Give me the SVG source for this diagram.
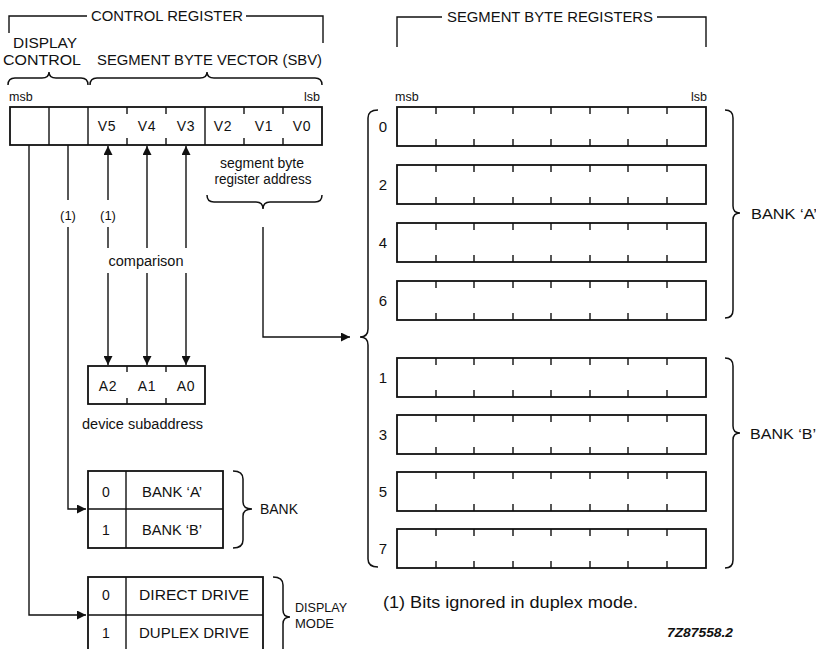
<svg xmlns="http://www.w3.org/2000/svg" width="816" height="649" viewBox="0 0 816 649">
<style>
  text { font-family: "Liberation Sans", Arial, sans-serif; fill: #111; }
  .t15 { font-size: 15px; }
  .t14 { font-size: 14px; }
  .t13 { font-size: 13px; }
  .t12 { font-size: 12.5px; }
  .sp { letter-spacing: 0.8px; }
  .c { text-anchor: middle; }
  .box { fill: none; stroke: #111; stroke-width: 1.8; }
  .ln { fill: none; stroke: #111; stroke-width: 1.4; }
  .tk { fill: none; stroke: #111; stroke-width: 1.4; }
  .br { fill: none; stroke: #111; stroke-width: 1.5; }
</style>
<defs>
  <marker id="ah" viewBox="0 0 10 10" refX="10" refY="5" markerWidth="9" markerHeight="9" markerUnits="userSpaceOnUse" orient="auto">
    <path d="M0,0 L10,5 L0,10 z" fill="#111"/>
  </marker>
</defs>
<rect width="816" height="649" fill="#fff"/>

<!-- Control register header -->
<g id="control-register-header">
  <path class="ln" d="M9 33 V16 H87 M246 16 H323 V43"/>
  <text class="t14" x="91" y="21" textLength="152" lengthAdjust="spacingAndGlyphs">CONTROL REGISTER</text>
  <text class="t14" x="13" y="48" textLength="64" lengthAdjust="spacingAndGlyphs">DISPLAY</text>
  <text class="t14" x="3" y="65" textLength="78" lengthAdjust="spacingAndGlyphs">CONTROL</text>
  <text class="t14" x="97" y="65" textLength="225" lengthAdjust="spacingAndGlyphs">SEGMENT BYTE VECTOR (SBV)</text>
  <path class="br" d="M8 85 Q8 78 15 78 L42 78 Q49 78 49 72 Q49 78 56 78 L81 78 Q88 78 88 85"/>
  <path class="br" d="M90 85 Q90 78 97 78 L200 78 Q207 78 207 72 Q207 78 214 78 L315 78 Q322 78 322 85"/>
  <text class="t12" x="9" y="101">msb</text>
  <text class="t12" x="320" y="101" text-anchor="end">lsb</text>
</g>

<!-- Control register -->
<g id="control-register">
  <rect class="box" x="10" y="107" width="312" height="38"/>
  <path class="ln" d="M49 107 V145 M88 107 V145 M205 107 V145"/>
  <path class="tk" d="M127 107 v7 M166 107 v7 M244 107 v7 M283 107 v7 M127 145 v-7 M166 145 v-7 M244 145 v-7 M283 145 v-7"/>
  <text class="t14 c sp" x="107" y="131">V5</text>
  <text class="t14 c sp" x="147" y="131">V4</text>
  <text class="t14 c sp" x="186" y="131">V3</text>
  <text class="t14 c sp" x="223" y="131">V2</text>
  <text class="t14 c sp" x="264" y="131">V1</text>
  <text class="t14 c sp" x="302" y="131">V0</text>
</g>

<g id="address-label">
  <text class="t14 c" x="262" y="168" textLength="84" lengthAdjust="spacingAndGlyphs">segment byte</text>
  <text class="t14 c" x="263" y="184" textLength="97" lengthAdjust="spacingAndGlyphs">register address</text>
  <path class="br" d="M207 195 Q207 202 214 202 L256 202 Q263 202 263 209 Q263 202 270 202 L315 202 Q322 202 322 195"/>
</g>

<!-- Device subaddress -->
<g id="device-subaddress">
  <rect class="box" x="88" y="366" width="117" height="38"/>
  <path class="tk" d="M127 366 v6 M166 366 v6 M127 404 v-6 M166 404 v-6"/>
  <text class="t14 c sp" x="108" y="391">A2</text>
  <text class="t14 c sp" x="147" y="391">A1</text>
  <text class="t14 c sp" x="186" y="391">A0</text>
  <text class="t14" x="82" y="429" textLength="121" lengthAdjust="spacingAndGlyphs">device subaddress</text>
</g>

<!-- Bank table -->
<g id="bank-table">
  <rect class="box" x="88" y="471" width="135" height="77"/>
  <path class="ln" d="M88 509 H223 M126 471 V548"/>
  <text class="t14 c" x="106" y="497">0</text>
  <text class="t14 c" x="172" y="497" textLength="60" lengthAdjust="spacingAndGlyphs">BANK ‘A’</text>
  <text class="t14 c" x="106" y="535">1</text>
  <text class="t14 c" x="172" y="535" textLength="60" lengthAdjust="spacingAndGlyphs">BANK ‘B’</text>
  <path class="br" d="M233 471 Q243 471 243 479 L243 502 Q243 509 252 509 Q243 509 243 516 L243 540 Q243 548 233 548"/>
  <text class="t14" x="260" y="514" textLength="38" lengthAdjust="spacingAndGlyphs">BANK</text>
</g>

<!-- Display mode table -->
<g id="display-mode-table">
  <rect class="box" x="88" y="577" width="175" height="80"/>
  <path class="ln" d="M88 615 H263 M126 577 V657"/>
  <text class="t14 c" x="106" y="600">0</text>
  <text class="t14 c" x="194" y="600" textLength="110" lengthAdjust="spacingAndGlyphs">DIRECT DRIVE</text>
  <text class="t14 c" x="106" y="638">1</text>
  <text class="t14 c" x="194" y="638" textLength="110" lengthAdjust="spacingAndGlyphs">DUPLEX DRIVE</text>
  <path class="br" d="M273 577 Q283 577 283 585 L283 610 Q283 617 290 617 Q283 617 283 624 L283 660"/>
  <text class="t13" x="295" y="612" textLength="52" lengthAdjust="spacingAndGlyphs">DISPLAY</text>
  <text class="t13" x="295" y="628">MODE</text>
</g>

<!-- Segment byte registers header -->
<g id="segment-byte-registers-header">
  <path class="ln" d="M397 47 V17 H442 M657 17 H706 V47"/>
  <text class="t14" x="447" y="22" textLength="206" lengthAdjust="spacingAndGlyphs">SEGMENT BYTE REGISTERS</text>
  <text class="t12" x="395" y="101">msb</text>
  <text class="t12" x="707" y="101" text-anchor="end">lsb</text>
</g>

<!-- Segment byte registers -->
<g id="seg-reg-0" transform="translate(0,107)">
  <rect class="box" x="397" y="0" width="309" height="39"/>
  <path class="tk" d="M436 0 v7 M474 0 v7 M513 0 v7 M551 0 v7 M590 0 v7 M628 0 v7 M667 0 v7 M436 39 v-7 M474 39 v-7 M513 39 v-7 M551 39 v-7 M590 39 v-7 M628 39 v-7 M667 39 v-7"/>
  <text class="t15 c" x="383" y="25">0</text>
</g>
<g id="seg-reg-2" transform="translate(0,165)">
  <rect class="box" x="397" y="0" width="309" height="39"/>
  <path class="tk" d="M436 0 v7 M474 0 v7 M513 0 v7 M551 0 v7 M590 0 v7 M628 0 v7 M667 0 v7 M436 39 v-7 M474 39 v-7 M513 39 v-7 M551 39 v-7 M590 39 v-7 M628 39 v-7 M667 39 v-7"/>
  <text class="t15 c" x="383" y="25">2</text>
</g>
<g id="seg-reg-4" transform="translate(0,223)">
  <rect class="box" x="397" y="0" width="309" height="39"/>
  <path class="tk" d="M436 0 v7 M474 0 v7 M513 0 v7 M551 0 v7 M590 0 v7 M628 0 v7 M667 0 v7 M436 39 v-7 M474 39 v-7 M513 39 v-7 M551 39 v-7 M590 39 v-7 M628 39 v-7 M667 39 v-7"/>
  <text class="t15 c" x="383" y="25">4</text>
</g>
<g id="seg-reg-6" transform="translate(0,281)">
  <rect class="box" x="397" y="0" width="309" height="39"/>
  <path class="tk" d="M436 0 v7 M474 0 v7 M513 0 v7 M551 0 v7 M590 0 v7 M628 0 v7 M667 0 v7 M436 39 v-7 M474 39 v-7 M513 39 v-7 M551 39 v-7 M590 39 v-7 M628 39 v-7 M667 39 v-7"/>
  <text class="t15 c" x="383" y="25">6</text>
</g>
<g id="seg-reg-1" transform="translate(0,358)">
  <rect class="box" x="397" y="0" width="309" height="39"/>
  <path class="tk" d="M436 0 v7 M474 0 v7 M513 0 v7 M551 0 v7 M590 0 v7 M628 0 v7 M667 0 v7 M436 39 v-7 M474 39 v-7 M513 39 v-7 M551 39 v-7 M590 39 v-7 M628 39 v-7 M667 39 v-7"/>
  <text class="t15 c" x="383" y="25">1</text>
</g>
<g id="seg-reg-3" transform="translate(0,415)">
  <rect class="box" x="397" y="0" width="309" height="39"/>
  <path class="tk" d="M436 0 v7 M474 0 v7 M513 0 v7 M551 0 v7 M590 0 v7 M628 0 v7 M667 0 v7 M436 39 v-7 M474 39 v-7 M513 39 v-7 M551 39 v-7 M590 39 v-7 M628 39 v-7 M667 39 v-7"/>
  <text class="t15 c" x="383" y="25">3</text>
</g>
<g id="seg-reg-5" transform="translate(0,472)">
  <rect class="box" x="397" y="0" width="309" height="39"/>
  <path class="tk" d="M436 0 v7 M474 0 v7 M513 0 v7 M551 0 v7 M590 0 v7 M628 0 v7 M667 0 v7 M436 39 v-7 M474 39 v-7 M513 39 v-7 M551 39 v-7 M590 39 v-7 M628 39 v-7 M667 39 v-7"/>
  <text class="t15 c" x="383" y="25">5</text>
</g>
<g id="seg-reg-7" transform="translate(0,529)">
  <rect class="box" x="397" y="0" width="309" height="39"/>
  <path class="tk" d="M436 0 v7 M474 0 v7 M513 0 v7 M551 0 v7 M590 0 v7 M628 0 v7 M667 0 v7 M436 39 v-7 M474 39 v-7 M513 39 v-7 M551 39 v-7 M590 39 v-7 M628 39 v-7 M667 39 v-7"/>
  <text class="t15 c" x="383" y="25">7</text>
</g>

<!-- Braces on register banks -->
<g id="braces">
  <path class="br" d="M378 110 Q368 110 368 118 L368 329 Q368 337 360 337 Q368 337 368 345 L368 559 Q368 567 378 567"/>
  <path class="br" d="M725 110 Q733 110 733 118 L733 206 Q733 213 740 213 Q733 213 733 220 L733 310 Q733 318 725 318"/>
  <text class="t15" x="751" y="219" textLength="66" lengthAdjust="spacingAndGlyphs">BANK ‘A’</text>
  <path class="br" d="M725 358 Q733 358 733 366 L733 426 Q733 433 740 433 Q733 433 733 440 L733 560 Q733 568 725 568"/>
  <text class="t15" x="750" y="439" textLength="66" lengthAdjust="spacingAndGlyphs">BANK ‘B’</text>
</g>

<!-- Connectors -->
<g id="connectors">
  <path class="ln" d="M29 145 V615 H86" marker-end="url(#ah)"/>
  <path class="ln" d="M68 145 V200 M68 227 V509 H86" marker-end="url(#ah)"/>
  <text class="t13 c" x="68" y="220">(1)</text>
  <path class="ln" d="M108 200 V146" marker-end="url(#ah)"/>
  <text class="t13 c" x="108" y="220">(1)</text>
  <path class="ln" d="M108 227 V248"/>
  <path class="ln" d="M108 273 V365" marker-end="url(#ah)"/>
  <path class="ln" d="M147 248 V146" marker-end="url(#ah)"/>
  <path class="ln" d="M147 273 V365" marker-end="url(#ah)"/>
  <path class="ln" d="M186 248 V146" marker-end="url(#ah)"/>
  <path class="ln" d="M186 273 V365" marker-end="url(#ah)"/>
  <text class="t14 c" x="146" y="266" textLength="75" lengthAdjust="spacingAndGlyphs">comparison</text>
  <path class="ln" d="M263 227 V337 H350" marker-end="url(#ah)"/>
</g>

<!-- Footnote -->
<g id="footnote">
  <text x="383" y="608" style="font-size:16px" textLength="255" lengthAdjust="spacingAndGlyphs">(1) Bits ignored in duplex mode.</text>
  <text x="667" y="637" style="font-size:12px;font-weight:bold;font-style:italic" textLength="66" lengthAdjust="spacingAndGlyphs">7Z87558.2</text>
</g>
</svg>
